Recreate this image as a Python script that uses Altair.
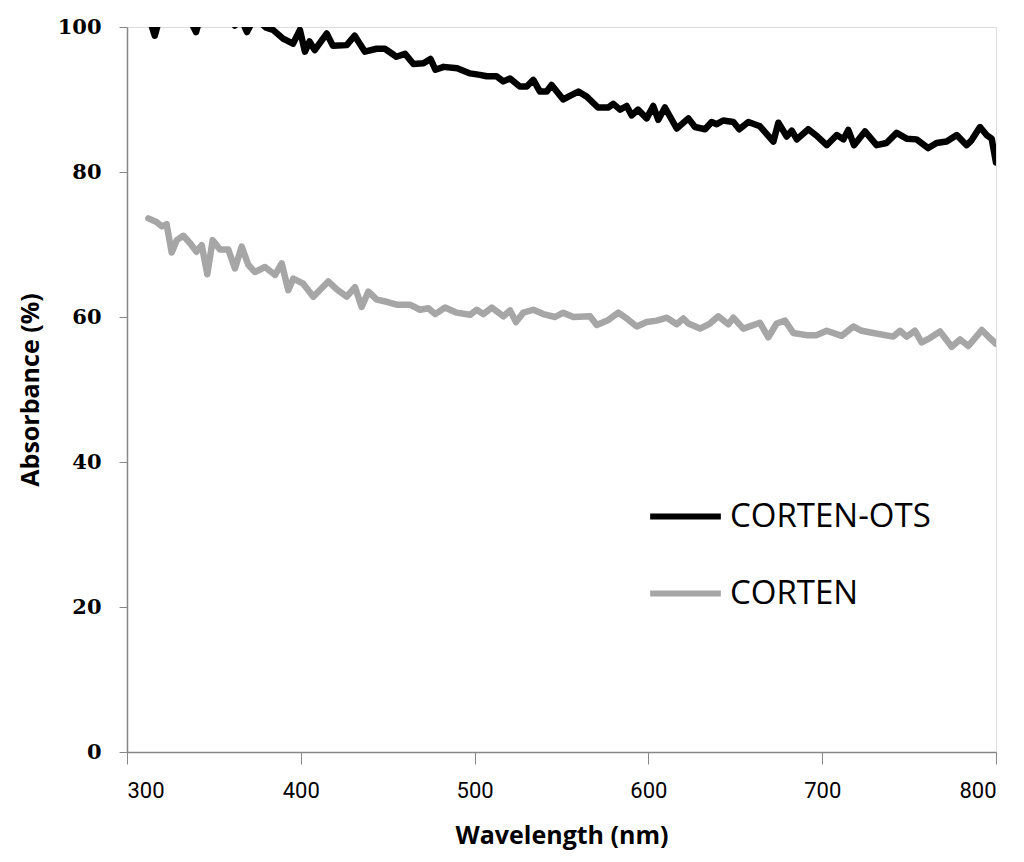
import altair as alt
import pandas as pd

# CORTEN-OTS (black)
ots_wl = [312, 314, 316, 318, 322, 326, 330, 335, 339.7, 342, 347, 352, 357, 362, 366, 369, 372, 376, 380, 384,
          389.8, 395.5, 399.5, 402.4, 405, 408, 414.9, 418.5, 426.4, 431, 436.9, 443.6, 448.4, 455, 460, 464.8,
          470.6, 474.6, 477.5, 482.2, 490, 497.4, 503, 507, 512.7, 516.5, 520.4, 526, 530, 533.8, 537.6, 541.5,
          544.3, 551, 554, 559.7, 564.5, 571, 577, 579.8, 583.7, 587.5, 590.4, 594, 599, 602.8, 605.7, 609.5,
          616.3, 623, 626.8, 632.6, 636.4, 639.3, 643, 648.9, 652.3, 657.5, 664.2, 671.9, 674.8, 679.6, 682.5,
          685.4, 692, 696.8, 702.6, 708.4, 712.2, 715, 718.3, 724.6, 731.3, 737, 742.8, 748.6, 754.3, 761,
          765.8, 771.6, 777.4, 783.1, 786, 790.8, 794.6, 797.5, 800]
ots_abs = [101.5, 100.3, 98.8, 100.6, 102.0, 101.4, 102.3, 101.6, 99.3, 101.2, 102.0, 101.4, 102.1, 100.2, 101.0,
           99.3, 100.7, 100.8, 99.9, 99.6, 98.4, 97.7, 99.6, 96.6, 98.0, 96.8, 99.1, 97.4, 97.5, 98.8, 96.6, 97.0,
           97.0, 95.9, 96.3, 94.9, 95.0, 95.6, 94.1, 94.5, 94.3, 93.6, 93.4, 93.2, 93.2, 92.5, 92.9, 91.8, 91.8,
           92.7, 91.1, 91.1, 92.0, 90.0, 90.4, 91.1, 90.4, 88.9, 88.9, 89.4, 88.6, 89.1, 87.8, 88.6, 87.4, 89.1,
           87.2, 88.9, 86.0, 87.4, 86.2, 85.9, 86.9, 86.6, 87.1, 86.9, 85.9, 86.9, 86.3, 84.2, 86.8, 84.9, 85.7,
           84.5, 85.9, 85.0, 83.7, 85.1, 84.5, 85.8, 83.7, 85.6, 83.7, 84.0, 85.4, 84.6, 84.5, 83.3, 84.0, 84.2,
           85.1, 83.7, 84.4, 86.2, 85.1, 84.6, 81.3]

# CORTEN (grey)
ct_wl = [312.3, 317, 320, 322.8, 325.7, 328.6, 332.4, 336.2, 340, 343, 346.2, 349.3, 353.5, 358.3, 362.1, 366,
         369.8, 373.6, 379.4, 385.2, 389, 392.8, 395.7, 401.4, 407.2, 415.8, 420.7, 426.4, 431.2, 435, 438.9,
         443.7, 449.4, 455.2, 462.8, 468.6, 473.4, 477.3, 483, 489.7, 497.4, 501.2, 505, 509.9, 516.6, 520.4,
         523.8, 528, 533.8, 539.5, 546.3, 551, 556.8, 566.4, 570.3, 577, 582.7, 587.5, 593.3, 599, 604.8, 610.6,
         616.3, 620.1, 623, 629.7, 635.4, 640.2, 646, 648.9, 654.6, 664.2, 669, 673.8, 678.6, 683.4, 691, 696.8,
         702.6, 711.2, 717.9, 722.7, 729.4, 740.9, 744.8, 748.6, 753.4, 757.2, 762, 767.8, 774.5, 779.3, 784.1,
         791.8, 795.6, 800]
ct_abs = [73.6, 73.1, 72.5, 72.8, 68.9, 70.6, 71.2, 70.2, 69.0, 69.9, 65.9, 70.6, 69.3, 69.3, 66.7, 69.7, 67.2,
          66.2, 66.9, 65.8, 67.4, 63.7, 65.3, 64.6, 62.8, 64.9, 63.8, 62.8, 64.1, 61.4, 63.5, 62.4, 62.1, 61.7,
          61.7, 61.0, 61.2, 60.4, 61.3, 60.6, 60.3, 61.0, 60.4, 61.3, 60.1, 60.9, 59.3, 60.6, 61.0, 60.4, 60.0,
          60.6, 60.0, 60.1, 58.9, 59.6, 60.6, 59.8, 58.7, 59.3, 59.5, 59.9, 59.0, 59.8, 59.1, 58.4, 59.1, 60.1,
          59.0, 59.9, 58.4, 59.2, 57.2, 59.1, 59.5, 57.8, 57.5, 57.5, 58.1, 57.4, 58.7, 58.1, 57.8, 57.3, 58.1,
          57.3, 58.1, 56.5, 57.1, 58.0, 55.9, 56.9, 56.0, 58.2, 57.3, 56.3]

series_names = ["CORTEN-OTS", "CORTEN"]
series_colors = ["#000000", "#a6a6a6"]
x_ticks = [300, 400, 500, 600, 700, 800]
y_ticks = [0, 20, 40, 60, 80, 100]

df = pd.concat([
    pd.DataFrame({"wl": ots_wl, "abs": ots_abs, "series": series_names[0], "order": range(len(ots_wl))}),
    pd.DataFrame({"wl": ct_wl, "abs": ct_abs, "series": series_names[1], "order": range(len(ct_wl))}),
])

axis_color = "#868686"

chart = alt.Chart(df).mark_line(clip=True, strokeWidth=6.5, strokeJoin="round", strokeCap="round").encode(
    x=alt.X("wl:Q", scale=alt.Scale(domain=[300, 800], nice=False),
            axis=alt.Axis(title="Wavelength (nm)", values=x_ticks, grid=False, tickSize=12,
                          labelPadding=16, titlePadding=22, labelFont="Roboto",
                          labelFontSize=22, labelColor="#000", titleFont="Open Sans", titleFontSize=25,
                          titleFontWeight="bold", titleColor="#000", domainColor=axis_color,
                          tickColor=axis_color, domainWidth=1.5)),
    y=alt.Y("abs:Q", scale=alt.Scale(domain=[0, 100], nice=False),
            axis=alt.Axis(title="Absorbance  (%)", values=y_ticks, grid=False, tickSize=8,
                          labelPadding=18, titlePadding=14, labelFont="DejaVu Serif", labelFontSize=21,
                          labelFontWeight="bold", labelColor="#000", titleFont="Open Sans",
                          titleFontSize=25, titleFontWeight="bold", titleColor="#000",
                          domainColor=axis_color, tickColor=axis_color, domainWidth=1.5)),
    color=alt.Color("series:N", scale=alt.Scale(domain=series_names, range=series_colors),
                    sort=series_names,
                    legend=alt.Legend(title=None, orient="none", legendX=520, legendY=451,
                                      symbolType="stroke", symbolSize=5000, symbolStrokeWidth=6,
                                      labelFont="Open Sans", labelFontSize=33, labelColor="#000",
                                      rowPadding=21, labelOffset=6, labelLimit=400)),
    order="order:Q",
    detail="series:N",
).properties(
    width=869, height=725,
    autosize=alt.AutoSizeParams(type="none"),
    padding={"left": 119, "top": 19, "right": 20, "bottom": 100},
).configure_view(stroke=axis_color, strokeWidth=1.5).configure(background="white")

chart.save("out.html", embed_options={"renderer": "svg", "actions": False})
